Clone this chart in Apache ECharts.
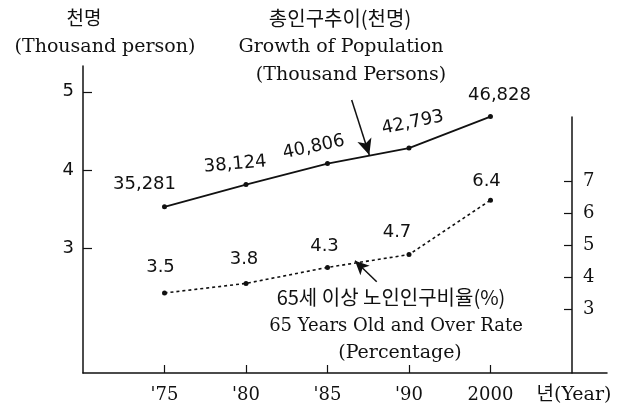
<!DOCTYPE html>
<html>
<head>
<meta charset="utf-8">
<script src="https://cdn.jsdelivr.net/npm/echarts@6/dist/echarts.min.js"></script>
<style>
  html, body { margin: 0; padding: 0; background: #fff; }
  #chart { width: 629px; height: 417px; }
</style>
</head>
<body>
<div id="chart"></div>
<script>
// survey years, placed at x = 1..5
const years = ["'75", "'80", "'85", "'90", '2000']
// total population (thousand persons)
const population = [35281, 38124, 40806, 42793, 46828]
// share of people aged 65 and over (%)
const elderlyRate = [3.5, 3.8, 4.3, 4.7, 6.4]
// tick labels
const popTicks = [3, 4, 5] // x 10,000 thousand
const rateTicks = [3, 4, 5, 6, 7]

// label placement (px from the point)
const popLabelOffsets = [[-20, -22], [-9, -21], [-10, -19], [9, -24], [9, -21]]
const popLabelRotate = [0, 5, 12, 12, 0]
const rateLabelOffsets = [[-4, -26], [-2, -24], [-3, -21], [-12, -22], [-4, -19]]

const INK = '#111'
const SERIF = "'DejaVu Serif', 'Noto Sans CJK KR'"
const SANS = "'DejaVu Sans'"
const KR = "'Noto Sans CJK KR'"

const chart = echarts.init(document.getElementById('chart'))

function text(str, x, y, font) {
  return {
    type: 'text',
    x, y,
    style: {
      text: str,
      font,
      fill: INK,
      textAlign: 'center',
      textVerticalAlign: 'middle',
    },
  }
}

const axisCommon = {
  axisLine: { show: true, onZero: false, lineStyle: { color: INK, width: 1.5 } },
  axisTick: { show: true, inside: true, length: 8, lineStyle: { color: INK, width: 1.2 } },
  splitLine: { show: false },
}

chart.setOption({
  animation: false,
  backgroundColor: '#fff',
  grid: [
    { left: 83, right: 22, top: 66, bottom: 44 },
    { left: 83, right: 57, top: 117, bottom: 44 },
  ],
  xAxis: [
    {
      ...axisCommon,
      gridIndex: 0,
      type: 'value',
      min: 0,
      max: 6.43,
      axisTick: { ...axisCommon.axisTick, customValues: [1, 2, 3, 4, 5] },
      axisLabel: {
        customValues: [1, 2, 3, 4, 5],
        formatter: (v) => years[Math.round(v) - 1],
        color: INK,
        fontFamily: SERIF,
        fontSize: 18,
        margin: 13,
      },
    },
    { gridIndex: 1, type: 'value', min: 0, max: 6, show: false },
  ],
  yAxis: [
    {
      ...axisCommon,
      gridIndex: 0,
      type: 'value',
      position: 'left',
      min: 14000,
      max: 53300,
      axisTick: { ...axisCommon.axisTick, length: 9, customValues: popTicks.map(v => v * 10000) },
      axisLabel: {
        customValues: popTicks.map(v => v * 10000),
        formatter: (v) => String(v / 10000),
        color: INK,
        fontFamily: SANS,
        fontSize: 18,
        margin: 9,
      },
    },
    {
      ...axisCommon,
      gridIndex: 1,
      type: 'value',
      position: 'right',
      min: 1,
      max: 9,
      axisTick: { ...axisCommon.axisTick, customValues: rateTicks },
      axisLabel: {
        customValues: rateTicks,
        color: INK,
        fontFamily: SERIF,
        fontSize: 18,
        margin: 11,
      },
    },
  ],
  series: [
    {
      name: 'population',
      type: 'line',
      xAxisIndex: 0,
      yAxisIndex: 0,
      symbol: 'circle',
      symbolSize: 5,
      itemStyle: { color: INK },
      lineStyle: { color: INK, width: 1.8 },
      label: {
        show: true,
        position: 'inside',
        color: INK,
        fontFamily: SANS,
        fontSize: 18,
        formatter: (p) => p.value[1].toLocaleString('en-US'),
      },
      data: population.map((v, i) => ({
        value: [i + 1, v],
        label: { offset: popLabelOffsets[i], rotate: popLabelRotate[i] },
      })),
      markLine: {
        silent: true,
        symbol: ['none', 'arrow'],
        symbolSize: [11, 16],
        lineStyle: { color: INK, width: 1.5, type: 'solid' },
        label: { show: false },
        data: [[{ coord: [3.297, 48947] }, { coord: [3.513, 41907] }]],
      },
    },
    {
      name: 'elderly rate',
      type: 'line',
      xAxisIndex: 1,
      yAxisIndex: 1,
      symbol: 'circle',
      symbolSize: 5,
      itemStyle: { color: INK },
      lineStyle: { color: INK, width: 1.6, type: [3, 3] },
      label: {
        show: true,
        position: 'inside',
        color: INK,
        fontFamily: SANS,
        fontSize: 18,
        formatter: (p) => p.value[1].toFixed(1),
      },
      data: elderlyRate.map((v, i) => ({
        value: [i + 1, v],
        label: { offset: rateLabelOffsets[i] },
      })),
      markLine: {
        silent: true,
        symbol: ['none', 'arrow'],
        symbolSize: [10, 14],
        lineStyle: { color: INK, width: 1.5, type: 'solid' },
        label: { show: false },
        data: [[{ coord: [3.604, 3.853] }, { coord: [3.337, 4.509] }]],
      },
    },
  ],
  graphic: [
    text('천명', 84, 18, `19px ${KR}`),
    text('(Thousand person)', 105, 47, `19px ${SERIF}`),
    text('총인구추이(천명)', 340, 18, `20px ${KR}`),
    text('Growth of Population', 341, 47, `19px ${SERIF}`),
    text('(Thousand Persons)', 351, 75, `19px ${SERIF}`),
    text('65세 이상 노인인구비율(%)', 391, 297, `20px ${KR}`),
    text('65 Years Old and Over Rate', 396, 326, `18px ${SERIF}`),
    text('(Percentage)', 400, 353, `19px ${SERIF}`),
    text('년(Year)', 574, 395, `19px ${SERIF}`),
  ],
})
</script>
</body>
</html>
